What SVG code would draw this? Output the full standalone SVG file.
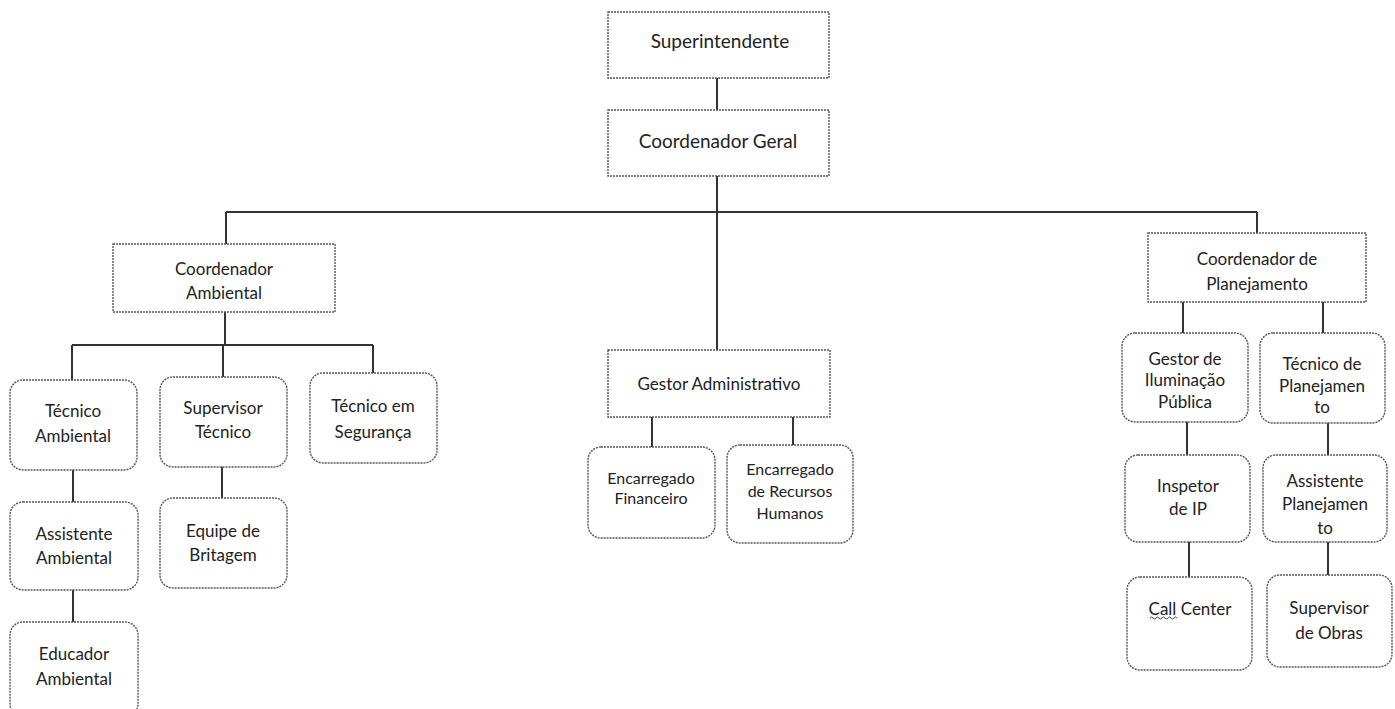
<svg xmlns="http://www.w3.org/2000/svg" width="1395" height="709" viewBox="0 0 1395 709">
<style>
.bg{fill:#fff}
.box{fill:#fff;stroke:#555;stroke-width:1.4;stroke-dasharray:2 1}
.rbox{fill:#fff;stroke:#555;stroke-width:1.4;stroke-dasharray:2 1}
.ln{fill:none;stroke:#333;stroke-width:2}
text{font-family:Lato,"Open Sans","Liberation Sans",sans-serif;fill:#222;text-anchor:middle;dominant-baseline:central}
.t19{font-size:19px}
.t17{font-size:17px}
.t16{font-size:16px}
.wave{fill:none;stroke:#444;stroke-width:1}
</style>
<rect class="bg" x="0" y="0" width="1395" height="709"/>
<g id="connectors">
<path class="ln" d="M717 78V110"/>
<path class="ln" d="M717 176V212M226 212H1257M226 212V244M1257 212V233M717 212V350"/>
<path class="ln" d="M225 312V345M72 345H373M72 345V380M223 345V377M373 345V373"/>
<path class="ln" d="M73 470V502M73 590V622M222 467V498"/>
<path class="ln" d="M652 417V447M793 417V445"/>
<path class="ln" d="M1183 302V333M1323 302V333M1187 422V455M1189 542V577M1328 542V575M1328 423V455"/>
</g>
<g id="superintendente"><rect class="box" x="608" y="12" width="221" height="66"/><text class="t19" x="720" y="40">Superintendente</text></g>
<g id="coord-geral"><rect class="box" x="608" y="110" width="221" height="66"/><text class="t19" x="718" y="140">Coordenador Geral</text></g>
<g id="coord-ambiental"><rect class="box" x="113" y="244" width="222" height="68"/><text class="t17" x="224" y="268">Coordenador</text><text class="t17" x="224" y="292">Ambiental</text></g>
<g id="tec-ambiental"><rect class="rbox" x="10" y="380" width="127" height="90" rx="13"/><text class="t17" x="73" y="410">Técnico</text><text class="t17" x="73" y="435">Ambiental</text></g>
<g id="sup-tecnico"><rect class="rbox" x="160" y="377" width="127" height="90" rx="13"/><text class="t17" x="223" y="407">Supervisor</text><text class="t17" x="223" y="431">Técnico</text></g>
<g id="tec-seguranca"><rect class="rbox" x="310" y="373" width="127" height="90" rx="13"/><text class="t17" x="373" y="405">Técnico em</text><text class="t17" x="373" y="431">Segurança</text></g>
<g id="assist-ambiental"><rect class="rbox" x="10" y="502" width="128" height="88" rx="13"/><text class="t17" x="74" y="533">Assistente</text><text class="t17" x="74" y="557">Ambiental</text></g>
<g id="equipe-britagem"><rect class="rbox" x="160" y="498" width="127" height="90" rx="13"/><text class="t17" x="223" y="530">Equipe de</text><text class="t17" x="223" y="554">Britagem</text></g>
<g id="educador-ambiental"><rect class="rbox" x="10" y="622" width="128" height="95" rx="13"/><text class="t17" x="74" y="653">Educador</text><text class="t17" x="74" y="678">Ambiental</text></g>
<g id="gestor-adm"><rect class="box" x="608" y="350" width="222" height="67"/><text class="t17" x="719" y="383">Gestor Administrativo</text></g>
<g id="enc-financeiro"><rect class="rbox" x="588" y="447" width="127" height="91" rx="13"/><text class="t16" x="651" y="477">Encarregado</text><text class="t16" x="651" y="497">Financeiro</text></g>
<g id="enc-rh"><rect class="rbox" x="727" y="445" width="126" height="98" rx="13"/><text class="t16" x="790" y="468">Encarregado</text><text class="t16" x="790" y="490">de Recursos</text><text class="t16" x="790" y="512">Humanos</text></g>
<g id="coord-planejamento"><rect class="box" x="1148" y="233" width="218" height="69"/><text class="t17" x="1257" y="258">Coordenador de</text><text class="t17" x="1257" y="283">Planejamento</text></g>
<g id="gestor-iluminacao"><rect class="rbox" x="1122" y="333" width="126" height="89" rx="13"/><text class="t17" x="1185" y="358">Gestor de</text><text class="t17" x="1185" y="379">Iluminação</text><text class="t17" x="1185" y="401">Pública</text></g>
<g id="tec-planejamento"><rect class="rbox" x="1260" y="333" width="125" height="90" rx="13"/><text class="t17" x="1322" y="363">Técnico de</text><text class="t17" x="1322" y="385">Planejamen</text><text class="t17" x="1322" y="406">to</text></g>
<g id="inspetor-ip"><rect class="rbox" x="1125" y="455" width="125" height="87" rx="13"/><text class="t17" x="1188" y="485">Inspetor</text><text class="t17" x="1188" y="508">de IP</text></g>
<g id="assist-planejamento"><rect class="rbox" x="1263" y="455" width="124" height="87" rx="13"/><text class="t17" x="1325" y="480">Assistente</text><text class="t17" x="1325" y="503">Planejamen</text><text class="t17" x="1325" y="527">to</text></g>
<g id="call-center"><rect class="rbox" x="1127" y="577" width="125" height="93" rx="13"/><text class="t17" x="1190" y="608">Call Center</text><path class="wave" d="M1150 618q1.5 -2 3 0t3 0t3 0t3 0t3 0t3 0t3 0t3 0t3 0"/></g>
<g id="sup-obras"><rect class="rbox" x="1267" y="575" width="125" height="92" rx="13"/><text class="t17" x="1329" y="607">Supervisor</text><text class="t17" x="1329" y="632">de Obras</text></g>
</svg>
